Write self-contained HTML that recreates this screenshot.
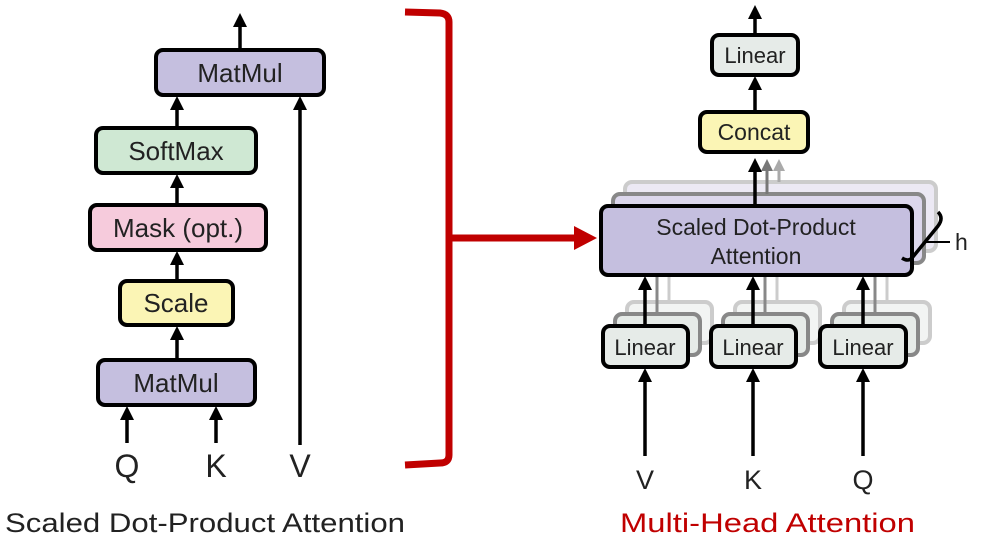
<!DOCTYPE html>
<html><head><meta charset="utf-8"><style>
html,body{margin:0;padding:0;background:#fff;}
svg{display:block;}
text{font-family:"Liberation Sans",sans-serif;fill:#222;}
</style></head><body>
<svg width="982" height="550" viewBox="0 0 982 550" xmlns="http://www.w3.org/2000/svg">
<defs>
<marker id="ah" markerWidth="4" markerHeight="4" refX="2" refY="2" orient="auto" markerUnits="strokeWidth">
<path d="M0,0 L4,2 L0,4 z" fill="#000"/></marker>
<marker id="ahg" markerWidth="4" markerHeight="4" refX="2" refY="2" orient="auto" markerUnits="strokeWidth">
<path d="M0,0 L4,2 L0,4 z" fill="#777"/></marker>
<marker id="ahl" markerWidth="4" markerHeight="4" refX="2" refY="2" orient="auto" markerUnits="strokeWidth">
<path d="M0,0 L4,2 L0,4 z" fill="#aaa"/></marker>
</defs>
<g stroke="#000" stroke-width="3.5" fill="none">
<line x1="240" y1="50" x2="240" y2="20" marker-end="url(#ah)"/>
<line x1="177" y1="128" x2="177" y2="103" marker-end="url(#ah)"/>
<line x1="177" y1="205" x2="177" y2="181" marker-end="url(#ah)"/>
<line x1="177" y1="281" x2="177" y2="258" marker-end="url(#ah)"/>
<line x1="177" y1="360" x2="177" y2="333" marker-end="url(#ah)"/>
<line x1="127" y1="443" x2="127" y2="413" marker-end="url(#ah)"/>
<line x1="216" y1="443" x2="216" y2="413" marker-end="url(#ah)"/>
<line x1="300" y1="445" x2="300" y2="103" marker-end="url(#ah)"/>
</g>
<g stroke="#000" stroke-width="4">
<rect x="156" y="50" width="168" height="45" rx="7" fill="#c5bfdf"/>
<rect x="96" y="128" width="160" height="45" rx="7" fill="#cfe8d3"/>
<rect x="90" y="205" width="176" height="45" rx="7" fill="#f6cbdc"/>
<rect x="120" y="281" width="113" height="44" rx="7" fill="#fbf5b5"/>
<rect x="98" y="360" width="157" height="45" rx="7" fill="#c5bfdf"/>
</g>
<g font-size="26" text-anchor="middle">
<text x="240" y="82">MatMul</text>
<text x="176" y="160">SoftMax</text>
<text x="178" y="237">Mask (opt.)</text>
<text x="176" y="312">Scale</text>
<text x="176" y="392">MatMul</text>
</g>
<g font-size="32" text-anchor="middle">
<text x="127" y="477">Q</text><text x="216" y="477">K</text><text x="300" y="477">V</text>
</g>
<text x="5" y="532" font-size="27" textLength="400" lengthAdjust="spacingAndGlyphs">Scaled Dot-Product Attention</text>
<text x="620" y="532" font-size="27" textLength="295" lengthAdjust="spacingAndGlyphs" style="fill:#c00000">Multi-Head Attention</text>
<path d="M405,12 L440,13 Q449,14 449,22 L449,455 Q449,463 440,463 L405,465" stroke="#c00000" stroke-width="7" fill="none"/>
<line x1="449" y1="238" x2="576" y2="238" stroke="#c00000" stroke-width="7"/>
<path d="M574,226 L597,238 L574,250 z" fill="#c00000"/>
<g stroke="#000" stroke-width="3.5" fill="none">
<line x1="755" y1="35" x2="755" y2="12" marker-end="url(#ah)"/>
<line x1="755" y1="112" x2="755" y2="83" marker-end="url(#ah)"/>
</g>
<g stroke="#000" stroke-width="4">
<rect x="712" y="35" width="86" height="40" rx="7" fill="#e6ebe8"/>
<rect x="700" y="112" width="108" height="40" rx="7" fill="#fbf5b5"/>
</g>
<text x="755" y="63" font-size="22" text-anchor="middle">Linear</text>
<text x="754" y="140" font-size="23" text-anchor="middle">Concat</text>
<rect x="625" y="182" width="311" height="69" rx="7" fill="#ece9f4" stroke="#ccc" stroke-width="4"/>
<rect x="613" y="194" width="311" height="69" rx="7" fill="#dcd7ec" stroke="#888" stroke-width="4"/>
<line x1="779" y1="182" x2="779" y2="165" stroke="#aaa" stroke-width="3" marker-end="url(#ahl)"/>
<line x1="767" y1="194" x2="767" y2="165" stroke="#777" stroke-width="3" marker-end="url(#ahg)"/>
<line x1="755" y1="206" x2="755" y2="165" stroke="#000" stroke-width="3.5" marker-end="url(#ah)"/>
<g>
<rect x="627" y="302" width="85" height="41" rx="7" fill="#f2f4f3" stroke="#ccc" stroke-width="4"/>
<rect x="615" y="314" width="85" height="41" rx="7" fill="#e6ebe8" stroke="#888" stroke-width="4"/>
<rect x="735" y="302" width="85" height="41" rx="7" fill="#f2f4f3" stroke="#ccc" stroke-width="4"/>
<rect x="723" y="314" width="85" height="41" rx="7" fill="#e6ebe8" stroke="#888" stroke-width="4"/>
<rect x="844" y="302" width="86" height="41" rx="7" fill="#f2f4f3" stroke="#ccc" stroke-width="4"/>
<rect x="832" y="314" width="86" height="41" rx="7" fill="#e6ebe8" stroke="#888" stroke-width="4"/>
</g>
<g stroke-width="3">
<line x1="669" y1="302" x2="669" y2="263" stroke="#ccc"/><line x1="657" y1="314" x2="657" y2="275" stroke="#888"/>
<line x1="777" y1="302" x2="777" y2="263" stroke="#ccc"/><line x1="765" y1="314" x2="765" y2="275" stroke="#888"/>
<line x1="887" y1="302" x2="887" y2="263" stroke="#ccc"/><line x1="875" y1="314" x2="875" y2="275" stroke="#888"/>
</g>
<rect x="601" y="206" width="311" height="69" rx="7" fill="#c5bfdf" stroke="#000" stroke-width="4"/>
<text x="756" y="235" font-size="23" text-anchor="middle">Scaled Dot-Product</text>
<text x="756" y="264" font-size="23" text-anchor="middle">Attention</text>
<path d="M938,212 Q944,218 938,226 L912,258 Q908,262 902,258" stroke="#000" stroke-width="3.5" fill="none"/>
<line x1="925" y1="242" x2="950" y2="242" stroke="#000" stroke-width="2"/>
<text x="955" y="250" font-size="23">h</text>
<g stroke="#000" stroke-width="3.5" fill="none">
<line x1="645" y1="326" x2="645" y2="283" marker-end="url(#ah)"/>
<line x1="753" y1="326" x2="753" y2="283" marker-end="url(#ah)"/>
<line x1="863" y1="326" x2="863" y2="283" marker-end="url(#ah)"/>
<line x1="645" y1="456" x2="645" y2="375" marker-end="url(#ah)"/>
<line x1="753" y1="456" x2="753" y2="375" marker-end="url(#ah)"/>
<line x1="863" y1="456" x2="863" y2="375" marker-end="url(#ah)"/>
</g>
<g stroke="#000" stroke-width="4">
<rect x="603" y="326" width="85" height="41" rx="7" fill="#e6ebe8"/>
<rect x="711" y="326" width="85" height="41" rx="7" fill="#e6ebe8"/>
<rect x="820" y="326" width="86" height="41" rx="7" fill="#e6ebe8"/>
</g>
<g font-size="22" text-anchor="middle">
<text x="645" y="355">Linear</text><text x="753" y="355">Linear</text><text x="863" y="355">Linear</text>
</g>
<g font-size="27" text-anchor="middle">
<text x="645" y="489">V</text><text x="753" y="489">K</text><text x="863" y="489">Q</text>
</g>
</svg>
</body></html>
